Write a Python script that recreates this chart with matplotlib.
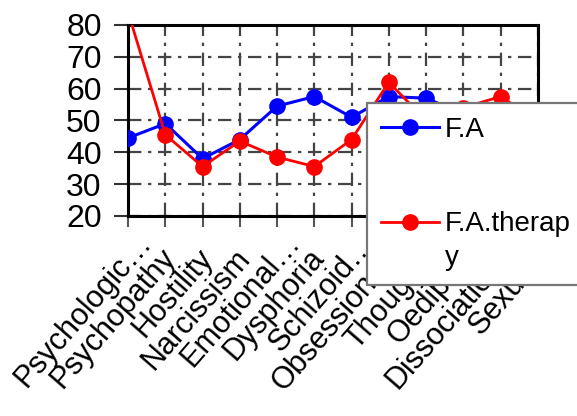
import math
import matplotlib
matplotlib.use("Agg")
import matplotlib.pyplot as plt
from matplotlib.transforms import ScaledTranslation, blended_transform_factory

categories = ["Psychologic…", "Psychopathy", "Hostility", "Narcissism",
              "Emotional…", "Dysphoria", "Schizoid…", "Obsessional…",
              "Thought…", "Oedipal…", "Dissociation…", "Sexual…"]
fa = [44.5, 49, 38, 44, 54.5, 57.5, 51, 57.5, 57, 52, 50, 52]
fa_therapy = [84, 45.5, 35.5, 43.5, 38.5, 35.5, 44, 62, 50, 54, 57.5, 50]
yticks = [20, 30, 40, 50, 60, 70, 80]

plt.rcParams['font.family'] = ['Liberation Sans', 'DejaVu Sans']

fig = plt.figure(figsize=(5.77, 4.16), dpi=100)
ax = fig.add_axes([0.222, 0.481, 0.71, 0.459])

x = list(range(len(categories)))
ax.plot(x, fa, color='#0000ff', lw=2.2, marker='o', ms=11, label='F.A', zorder=3)
ax.plot(x, fa_therapy, color='#ff0000', lw=2.0, marker='o', ms=11,
        label='F.A.therap\ny', zorder=3)

ax.set_xlim(0, len(categories) - 1)
ax.set_ylim(20, 80)
ax.set_yticks(yticks)
ax.set_xticks(x)
ax.tick_params(axis='x', labelbottom=False, direction='out', length=8, width=1.5,
               color='#555555')
ax.tick_params(axis='y', labelsize=23, direction='out', length=10, width=1.5,
               color='#333333', pad=9)

# rotated category labels, anchored at their end below each tick
ang = 49
base = blended_transform_factory(ax.transData, ax.transAxes)
for i, lab in zip(x, categories):
    dx, dy = 5.0, -37.0
    if lab.endswith('…'):
        e = 20.0
        dx += e * math.cos(math.radians(ang))
        dy += e * math.sin(math.radians(ang))
    tr = base + ScaledTranslation(dx / 100, dy / 100, fig.dpi_scale_trans)
    ax.text(i, 0, lab, transform=tr, rotation=ang, rotation_mode='anchor',
            ha='right', va='center', fontsize=22, zorder=2.5, clip_on=False)

ax.grid(True, color='#444444', lw=1.6, linestyle=(0, (6, 3, 1.5, 3)))
for s in ax.spines.values():
    s.set_linewidth(2.2)
    s.set_color('black')

leg = ax.legend(loc='upper left', bbox_to_anchor=(0.583, 0.592), fontsize=20,
                frameon=True, fancybox=False, framealpha=1, edgecolor='#777777',
                handlelength=2.1, handletextpad=0.2, borderpad=0.5,
                labelspacing=2.45, borderaxespad=0)
leg.get_frame().set_linewidth(1.6)
leg.set_zorder(10)
for t in leg.get_texts():
    t.set_linespacing(1.4)
red_handle = leg.legend_handles[1]
red_handle.set_ydata([v + 13.5 for v in red_handle.get_ydata()])

fig.savefig("out.png", dpi=100)
